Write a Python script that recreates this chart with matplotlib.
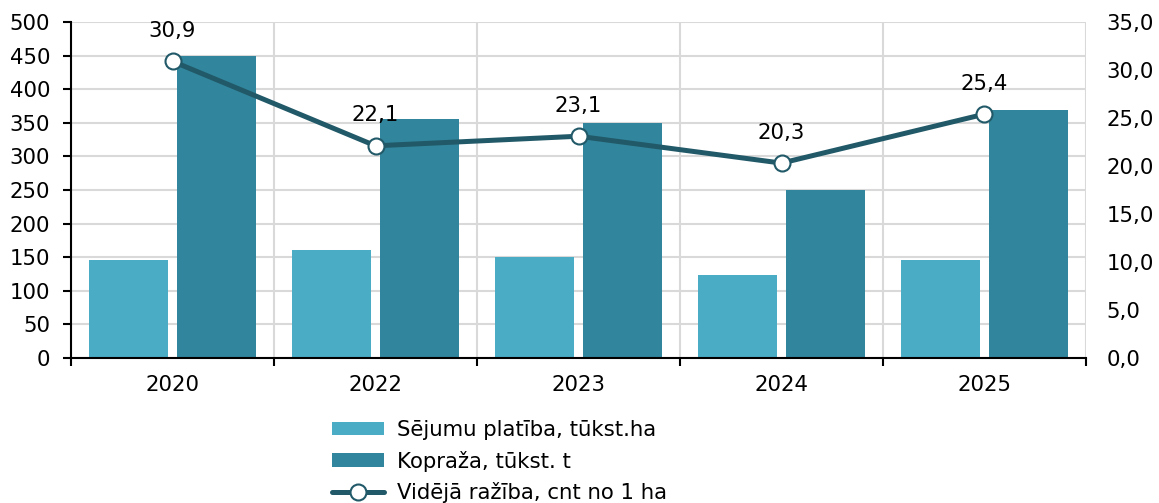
import numpy as np
import matplotlib
matplotlib.use('Agg')
from matplotlib import pyplot as plt
from matplotlib.ticker import FuncFormatter

years = ['2020', '2022', '2023', '2024', '2025']
area = [146, 160, 150, 123, 146]          # Sējumu platība, tūkst.ha
harvest = [450, 355, 350, 250, 369]       # Kopraža, tūkst. t
yield_ha = [30.9, 22.1, 23.1, 20.3, 25.4] # Vidējā ražība, cnt no 1 ha

c_light = '#4bacc6'
c_dark = '#31859c'
c_line = '#215968'
grid_c = '#d9d9d9'

plt.rcParams['font.family'] = ['DejaVu Sans']
plt.rcParams['font.size'] = 15.3

fig = plt.figure(figsize=(11.59, 5.03), dpi=100)
ax = fig.add_axes([0.0613, 0.2883, 0.8757, 0.668])
ax2 = ax.twinx()

x = np.arange(len(years))
w = 0.39
b1 = ax.bar(x - 0.215, area, w, color=c_light, label='Sējumu platība, tūkst.ha', zorder=2)
b2 = ax.bar(x + 0.215, harvest, w, color=c_dark, label='Kopraža, tūkst. t', zorder=2)

ln, = ax2.plot(x, yield_ha, color=c_line, lw=3.6, marker='o', ms=11.5,
               mfc='white', mec=c_line, mew=1.5, label='Vidējā ražība, cnt no 1 ha',
               solid_capstyle='round', zorder=3)
for xi, v in zip(x, yield_ha):
    ax2.annotate(f'{v:.1f}'.replace('.', ','), (xi, v), xytext=(0, 22),
                 textcoords='offset points', ha='center', va='center')

ax.set_xlim(-0.5, len(years) - 0.5)
ax.set_ylim(0, 500)
ax.set_yticks(np.arange(0, 501, 50))
ax2.set_ylim(0, 35)
ax2.set_yticks(np.arange(0, 35.1, 5))
ax2.yaxis.set_major_formatter(FuncFormatter(lambda v, p: f'{v:.1f}'.replace('.', ',')))

# category boundaries as ticks/grid, labels at centres
ax.set_xticks(np.arange(-0.5, len(years), 1))
ax.set_xticklabels([])
ax.set_xticks(x, minor=True)
ax.set_xticklabels(years, minor=True)
ax.tick_params(axis='x', which='major', length=6, width=1.5, direction='out', color='black')
ax.tick_params(axis='x', which='minor', length=0, pad=12)
ax.tick_params(axis='y', length=6, width=1.5, pad=9)
ax2.tick_params(axis='y', length=0, pad=15)

ax.grid(True, which='major', color=grid_c, lw=1.5, zorder=0)
ax.set_axisbelow(True)

for s in ['top', 'right']:
    ax.spines[s].set_visible(False)
for s in ['top', 'right', 'left', 'bottom']:
    ax2.spines[s].set_visible(False)
ax.spines['left'].set_linewidth(1.5)
ax.spines['bottom'].set_linewidth(1.5)
ax.spines['left'].set_zorder(4)

fig.legend(handles=[b1, b2, ln], loc='upper left', bbox_to_anchor=(0.2865, 0.165),
           frameon=False, handlelength=2.45, handleheight=0.6, handletextpad=0.6,
           labelspacing=0.5, borderaxespad=0, borderpad=0)

plt.savefig('out.png', dpi=100)
